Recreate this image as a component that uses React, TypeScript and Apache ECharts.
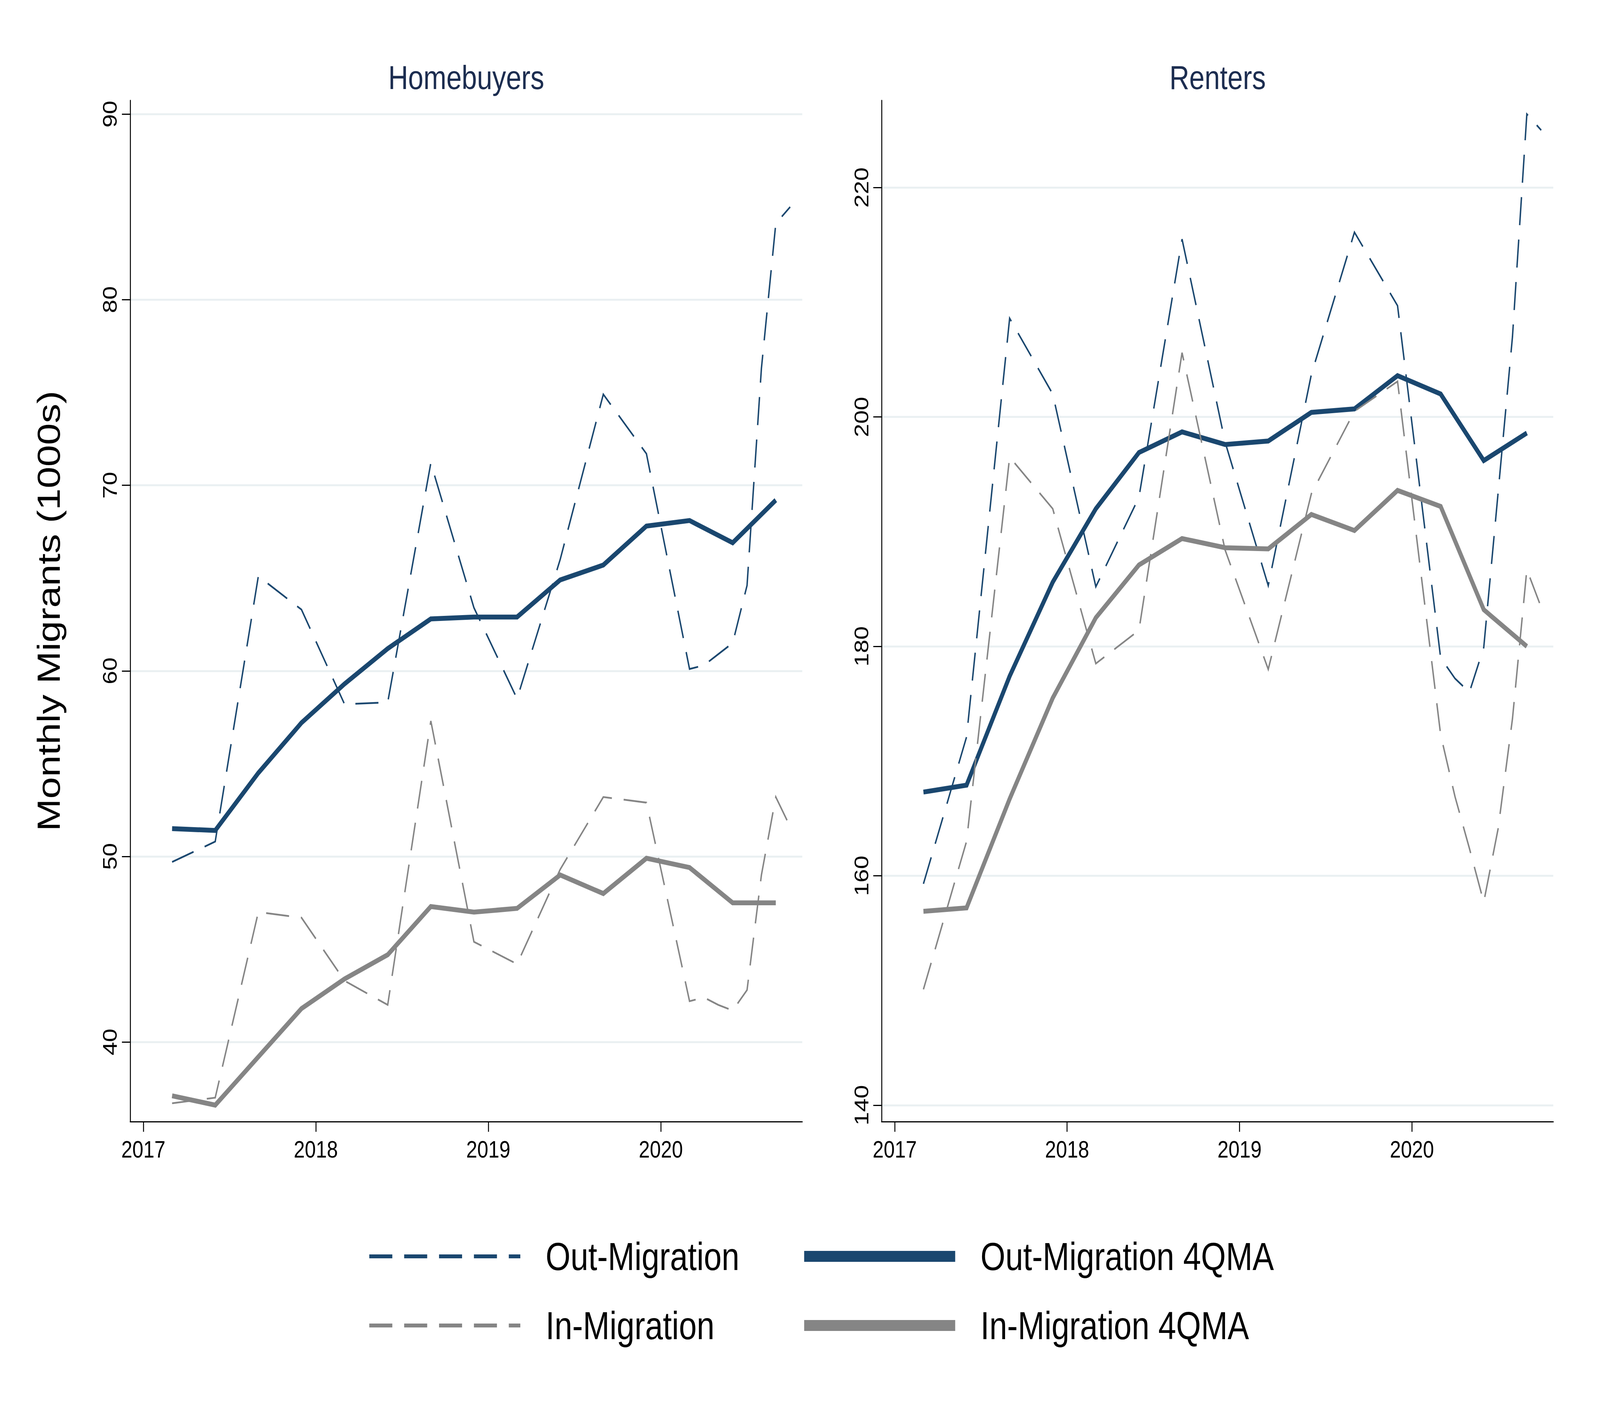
import React, { useEffect, useRef } from 'react';
import * as echarts from 'echarts';

// quarter-end dates for the 4-quarter moving averages
const maDates = [
  '2017-03', '2017-06', '2017-09', '2017-12',
  '2018-03', '2018-06', '2018-09', '2018-12',
  '2019-03', '2019-06', '2019-09', '2019-12',
  '2020-03', '2020-06', '2020-09',
];
// raw series: quarterly until 2019, monthly in 2020
const rawDates = [
  '2017-03', '2017-06', '2017-09', '2017-12',
  '2018-03', '2018-06', '2018-09', '2018-12',
  '2019-03', '2019-06', '2019-09', '2019-12',
  '2020-03', '2020-04', '2020-05', '2020-06', '2020-07', '2020-08', '2020-09', '2020-10',
];

// Homebuyers (1000s)
const homeOut = [49.7, 50.8, 65.1, 63.3, 58.2, 58.3, 71.2, 63.4, 58.5, 66.0, 74.9, 71.7, 60.1, 60.3, 60.9, 61.5, 64.6, 76.3, 84.1, 85.0];
const homeIn = [36.7, 37.0, 47.0, 46.7, 43.3, 42.0, 57.3, 45.4, 44.2, 49.3, 53.2, 52.9, 42.2, 42.4, 42.0, 41.7, 42.8, 49.0, 53.2, 51.6];
const homeOutMA = [51.5, 51.4, 54.5, 57.2, 59.3, 61.2, 62.8, 62.9, 62.9, 64.9, 65.7, 67.8, 68.1, 66.9, 69.2];
const homeInMA = [37.1, 36.6, 39.2, 41.8, 43.4, 44.7, 47.3, 47.0, 47.2, 49.0, 48.0, 49.9, 49.4, 47.5, 47.5];

// Renters (1000s)
const rentOut = [159.3, 172.1, 208.6, 202.0, 185.2, 193.0, 215.5, 197.8, 185.3, 203.7, 216.1, 209.7, 179.0, 177.2, 176.0, 179.9, 193.4, 207.0, 226.4, 225.0];
const rentIn = [150.1, 163.0, 196.5, 192.0, 178.5, 181.4, 205.6, 188.4, 178.0, 193.3, 200.5, 203.1, 172.3, 166.9, 162.4, 157.7, 164.1, 173.7, 186.7, 183.4];
const rentOutMA = [167.3, 167.9, 177.4, 185.6, 192.0, 196.9, 198.7, 197.6, 197.9, 200.4, 200.7, 203.6, 202.0, 196.2, 198.6];
const rentInMA = [156.9, 157.2, 166.7, 175.5, 182.5, 187.1, 189.4, 188.6, 188.5, 191.5, 190.1, 193.6, 192.2, 183.2, 180.0];

const yearTicks = [2017, 2018, 2019, 2020];
const homeTicks = [40, 50, 60, 70, 80, 90];
const rentTicks = [140, 160, 180, 200, 220];

const OUT_COLOR = '#1a476f';
const IN_COLOR = '#858585';
const GRID_COLOR = '#eaf0f2';
const FONT = '"Liberation Sans", Arial, sans-serif';
const DASH = [72, 37];

// the chart is laid out on the reference canvas and fitted to the window
const BASE_W = 5000;
const BASE_H = 3636;

const toYear = (d: string) => {
  const [y, m] = d.split('-').map(Number);
  return y + (m - 1) / 12;
};
const pairs = (dates: string[], vals: number[]) => dates.map((d, i) => [toYear(d), vals[i]]);

const xAxisFor = (gridIndex: number) => ({
  type: 'value',
  gridIndex,
  min: 2016.924,
  max: 2020.82,
  axisLine: { show: true, onZero: false, lineStyle: { color: '#000', width: 3 } },
  axisTick: { show: true, customValues: yearTicks, length: 26, lineStyle: { color: '#000', width: 3 } },
  axisLabel: {
    customValues: yearTicks,
    formatter: (v: number) => String(v),
    fontSize: 62,
    margin: 40,
    color: '#000',
    fontFamily: FONT,
  },
  splitLine: { show: false },
});

const yAxisFor = (gridIndex: number, min: number, max: number, ticks: number[], name?: string) => ({
  type: 'value',
  gridIndex,
  min,
  max,
  name,
  nameLocation: 'middle',
  nameGap: 205,
  nameRotate: 90,
  nameTextStyle: { fontSize: 100, color: '#000', fontFamily: FONT },
  axisLine: { show: true, onZero: false, lineStyle: { color: '#000', width: 3 } },
  axisTick: { show: true, customValues: ticks, length: 26, lineStyle: { color: '#000', width: 3 } },
  axisLabel: {
    customValues: ticks,
    formatter: (v: number) => String(v),
    rotate: 90,
    fontSize: 62,
    margin: 32,
    color: '#000',
    fontFamily: FONT,
  },
  splitLine: { show: true, lineStyle: { color: GRID_COLOR, width: 5 } },
});

const lineSeries = (name: string, idx: number, data: number[][], color: string, dashed: boolean) => ({
  name,
  type: 'line',
  xAxisIndex: idx,
  yAxisIndex: idx,
  data,
  symbol: 'none',
  itemStyle: { color },
  lineStyle: { color, width: dashed ? 4.5 : 12.5, type: dashed ? DASH : 'solid', join: 'miter' },
});

const legendFor = (names: string[], left: number, width: number) => ({
  data: names.map((n) => ({ name: n, lineStyle: { width } })),
  orient: 'vertical',
  left,
  top: 3167,
  padding: 0,
  itemWidth: 472,
  itemHeight: 28,
  itemGap: 77,
  selectedMode: false,
  itemStyle: { opacity: 0 },
  textStyle: { fontSize: 100, lineHeight: 100, color: '#000', fontFamily: FONT, padding: [0, 0, 0, 74] },
});

const App: React.FC = () => {
  const chartRef = useRef<HTMLDivElement>(null);
  const sx = window.innerWidth / BASE_W;
  const sy = window.innerHeight / BASE_H;

  useEffect(() => {
    const chart = echarts.init(chartRef.current, null, { renderer: 'svg' });

    const option = {
      animation: false,
      backgroundColor: '#fff',
      textStyle: { fontFamily: FONT },
      title: [
        {
          text: 'Homebuyers', left: 1457, top: 198, textAlign: 'center', textVerticalAlign: 'middle', padding: 0,
          textStyle: { fontSize: 86, fontWeight: 'normal', color: '#1c2d50', fontFamily: FONT },
        },
        {
          text: 'Renters', left: 3805, top: 198, textAlign: 'center', textVerticalAlign: 'middle', padding: 0,
          textStyle: { fontSize: 86, fontWeight: 'normal', color: '#1c2d50', fontFamily: FONT },
        },
      ],
      legend: [
        legendFor(['Out-Migration', 'In-Migration'], 1149, 10),
        legendFor(['Out-Migration 4QMA', 'In-Migration 4QMA'], 2499, 28),
      ],
      grid: [
        { left: 407, top: 257, width: 2100, height: 2615 },
        { left: 2755, top: 257, width: 2099, height: 2615 },
      ],
      xAxis: [xAxisFor(0), xAxisFor(1)],
      yAxis: [
        yAxisFor(0, 35.71, 90.74, homeTicks, 'Monthly Migrants (1000s)'),
        yAxisFor(1, 138.57, 227.6, rentTicks),
      ],
      series: [
        lineSeries('Out-Migration', 0, pairs(rawDates, homeOut), OUT_COLOR, true),
        lineSeries('Out-Migration 4QMA', 0, pairs(maDates, homeOutMA), OUT_COLOR, false),
        lineSeries('In-Migration', 0, pairs(rawDates, homeIn), IN_COLOR, true),
        lineSeries('In-Migration 4QMA', 0, pairs(maDates, homeInMA), IN_COLOR, false),
        lineSeries('Out-Migration', 1, pairs(rawDates, rentOut), OUT_COLOR, true),
        lineSeries('Out-Migration 4QMA', 1, pairs(maDates, rentOutMA), OUT_COLOR, false),
        lineSeries('In-Migration', 1, pairs(rawDates, rentIn), IN_COLOR, true),
        lineSeries('In-Migration 4QMA', 1, pairs(maDates, rentInMA), IN_COLOR, false),
      ],
    };

    chart.setOption(option);

    return () => {
      chart.dispose();
    };
  }, []);

  return (
    <div style={{ position: 'fixed', left: 0, top: 0, width: '100vw', height: '100vh', overflow: 'hidden', background: '#fff' }}>
      <div
        ref={chartRef}
        style={{
          width: BASE_W,
          height: BASE_H,
          transform: `scale(${sx}, ${sy})`,
          transformOrigin: '0 0',
        }}
      />
    </div>
  );
};

export default App;
